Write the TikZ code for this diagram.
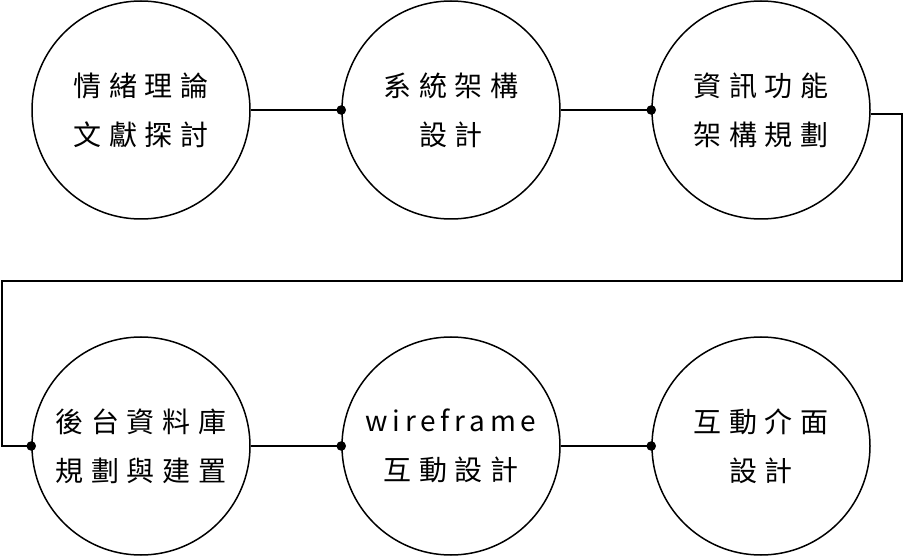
\documentclass[tikz,border=0pt]{standalone}
\usepackage{fontspec}
\newfontfamily\cjk[LetterSpace=28]{Noto Sans CJK TC}
\newfontfamily\cjklat[LetterSpace=17]{Noto Sans CJK TC}
\begin{document}
\begin{tikzpicture}[x=1pt,y=-1pt,
  stage/.style={circle,draw,line width=1.5pt,minimum size=218pt,inner sep=0pt,align=center,
    font={\cjk\fontsize{28}{49}\selectfont}},
  link/.style={line width=1.5pt},
  dot/.style={fill,radius=4.8pt}]
\useasboundingbox (0,0) rectangle (903,556);
\node[stage] (c1) at (141,110) {情緒理論\\文獻探討};
\node[stage] (c2) at (451,110) {系統架構\\設計};
\node[stage] (c3) at (761,110) {資訊功能\\架構規劃};
\node[stage] (c4) at (141,446) {後台資料庫\\規劃與建置};
\node[stage] (c5) at (451,446) {{\cjklat wireframe}\\互動設計};
\node[stage] (c6) at (761,446) {互動介面\\設計};
\coordinate (r) at (902,281);
\coordinate (l) at (2,281);
\draw[link] (c1.east) -- (c2.west);
\draw[link] (c2.east) -- (c3.west);
\draw[link] (c4.east) -- (c5.west);
\draw[link] (c5.east) -- (c6.west);
\draw[link] (c3.-2) -| (r) -- (l) |- (c4.west);
\fill[dot] (c2.west) circle;
\fill[dot] (c3.west) circle;
\fill[dot] (c4.west) circle;
\fill[dot] (c5.west) circle;
\fill[dot] (c6.west) circle;
\end{tikzpicture}
\end{document}
